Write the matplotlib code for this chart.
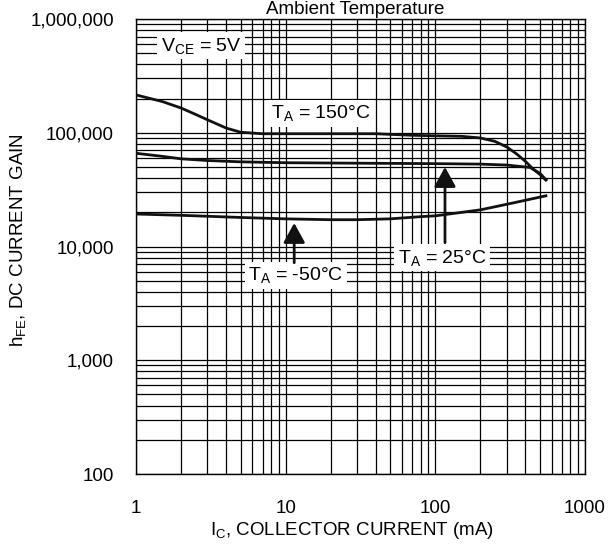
import matplotlib
matplotlib.use("Agg")
import matplotlib.pyplot as plt
from matplotlib.ticker import NullFormatter, LogLocator

plt.rcParams['font.family'] = ['Liberation Sans', 'DejaVu Sans']
plt.rcParams['mathtext.fontset'] = 'custom'
plt.rcParams['mathtext.rm'] = 'Liberation Sans'
plt.rcParams['mathtext.it'] = 'Liberation Sans'

# collector current (mA) and hFE
ic_150 = [1, 1.5, 2, 2.5, 3, 4, 5, 7, 10, 20, 40, 70, 100, 150, 200, 250, 300, 350, 400, 450, 500, 548]
hfe_150 = [215000, 188000, 165000, 145000, 130000, 110000, 101000, 98000, 98000, 98000, 98000,
           95000, 94000, 93000, 90000, 84000, 75000, 65000, 56000, 48000, 43000, 38500]

ic_25 = [1, 1.5, 2, 3, 5, 10, 30, 100, 200, 300, 430, 500, 548]
hfe_25 = [66000, 62000, 59000, 57000, 55500, 54500, 54000, 53500, 53000, 52000, 49500, 44000, 38500]

ic_m50 = [1, 2, 5, 10, 20, 30, 50, 80, 100, 200, 300, 400, 548]
hfe_m50 = [19300, 18800, 18000, 17500, 17200, 17200, 17500, 18300, 18600, 21000, 23500, 25500, 27900]

x_ticks = [1, 10, 100, 1000]
x_labels = ["1", "10", "100", "1000"]
y_ticks = [100, 1000, 10000, 100000, 1000000]
y_labels = ["100", "1,000", "10,000", "100,000", "1,000,000"]

fig = plt.figure(figsize=(6.1, 5.49), dpi=100)
ax = fig.add_axes([0.223, 0.1366, 0.736, 0.8288])

ax.set_xscale("log")
ax.set_yscale("log")
ax.set_xlim(1, 1000)
ax.set_ylim(100, 1000000)

ax.set_xticks(x_ticks)
ax.set_xticklabels(x_labels)
ax.set_yticks(y_ticks)
ax.set_yticklabels(y_labels)
ax.xaxis.set_minor_locator(LogLocator(base=10, subs=range(2, 10)))
ax.yaxis.set_minor_locator(LogLocator(base=10, subs=range(2, 10)))
ax.xaxis.set_minor_formatter(NullFormatter())
ax.yaxis.set_minor_formatter(NullFormatter())
ax.tick_params(which="both", length=0, labelsize=13.5)
ax.tick_params(axis="x", pad=19)
ax.tick_params(axis="y", pad=16)

ax.grid(True, which="both", color="black", linewidth=0.9)
for s in ax.spines.values():
    s.set_linewidth(1.0)

ax.plot(ic_150, hfe_150, color="#111111", linewidth=2.0, zorder=5)
ax.plot(ic_25, hfe_25, color="#111111", linewidth=2.0, zorder=5)
ax.plot(ic_m50, hfe_m50, color="#111111", linewidth=2.0, zorder=5)

box = dict(facecolor="white", edgecolor="none", pad=2.5)
ax.text(2.72, 580000, r"V$_{\rm CE}$ = 5V", fontsize=14, ha="center", va="center",
        bbox=box, zorder=6)
ax.text(17.2, 149000, r"T$_{\rm A}$ = 150°C", fontsize=14, ha="center", va="center",
        bbox=box, zorder=6)
ax.text(11.7, 5600, r"T$_{\rm A}$ = -50°C", fontsize=14, ha="center", va="center",
        bbox=box, zorder=6)
ax.text(111, 7950, r"T$_{\rm A}$ = 25°C", fontsize=14, ha="center", va="center",
        bbox=box, zorder=6)

arrow = dict(arrowstyle="-|>,head_length=1.0,head_width=0.55", color="#111111",
             lw=2.0, mutation_scale=12, shrinkA=0, shrinkB=0)
ax.annotate("", xy=(11.4, 16100), xytext=(11.4, 7200), arrowprops=arrow, zorder=7)
ax.annotate("", xy=(116, 50000), xytext=(116, 10800), arrowprops=arrow, zorder=7)

fig.text(0.582, 1 - 14 / 549, "Ambient Temperature", fontsize=13.5, ha="center", va="baseline")
fig.text(0.03, 0.563, r"h$_{\rm FE}$, DC CURRENT GAIN", fontsize=13.5, rotation=90,
         ha="center", va="center")
fig.text(0.577, 0.0346, r"I$_{\rm C}$, COLLECTOR CURRENT (mA)", fontsize=13.5,
         ha="center", va="center")

fig.savefig("out.png", dpi=100)
